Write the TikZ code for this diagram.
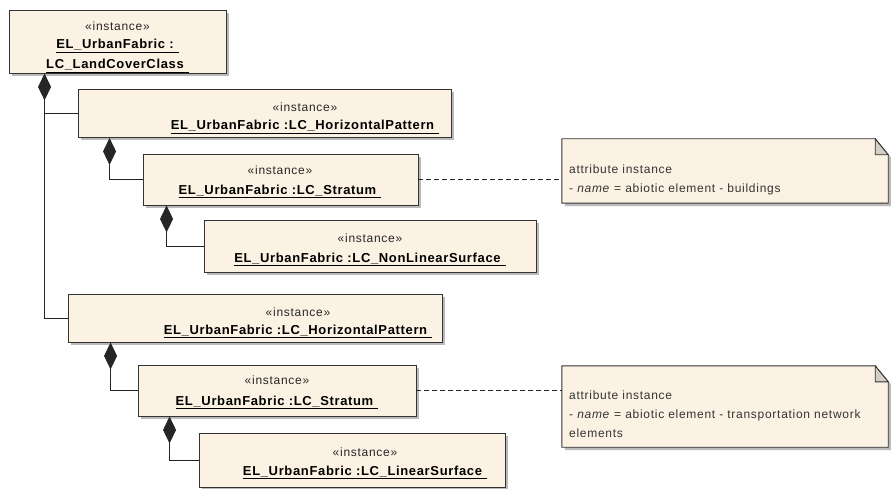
\documentclass[tikz,border=0pt]{standalone}
\usepackage{fontspec}
\setmainfont{Liberation Sans}
\usetikzlibrary{arrows.meta,shadows}

\definecolor{objfill}{RGB}{252,242,228}
\definecolor{foldfill}{RGB}{212,206,196}

\begin{document}
\begin{tikzpicture}[x=1pt, y=-1pt,
  obj/.style={draw=black!80, line width=0.9pt, fill=objfill, inner sep=0pt,
    drop shadow={shadow xshift=3pt, shadow yshift=-3pt, fill=black!45, opacity=0.6}},
  stereo/.style={anchor=base, inner sep=0pt, text=black!85, font=\fontsize{12}{14}\selectfont\addfontfeatures{LetterSpace=6}},
  objname/.style={anchor=base, inner sep=0pt, font=\fontsize{13}{15}\selectfont\bfseries\addfontfeatures{LetterSpace=5}},
  notetext/.style={anchor=north west, inner sep=0pt, align=left, text=black!80,
    font=\fontsize{12}{19}\selectfont\addfontfeatures{LetterSpace=6}},
  comp/.style={draw=black!85, line width=0.9pt, -{Diamond[length=27pt, width=13pt]}},
  link/.style={draw=black!85, line width=0.9pt},
  trace/.style={draw=black!85, line width=0.8pt, dash pattern=on 5pt off 3pt}]
  \def\uname#1{\vtop{\hbox{#1\hspace{5pt}}\kern1.6pt\hrule height 0.8pt}}
  \useasboundingbox (0,0) rectangle (891,489);

  % object boxes
  \node[obj, minimum width=217pt, minimum height=63pt] (lcc) at (117.5,41.5) {};
  \node[obj, minimum width=373pt, minimum height=48pt] (hp1) at (264.5,113.5) {};
  \node[obj, minimum width=275pt, minimum height=51pt] (st1) at (280.5,179.5) {};
  \node[obj, minimum width=332pt, minimum height=52pt] (nl) at (370,246) {};
  \node[obj, minimum width=374pt, minimum height=48pt] (hp2) at (255,318) {};
  \node[obj, minimum width=278pt, minimum height=51pt] (st2) at (277,390.5) {};
  \node[obj, minimum width=306pt, minimum height=54pt] (ls) at (352,460) {};

  % texts
  \node[stereo] (lccs) at (117.5,31) {«instance»};
  \node[objname] (lccn) at (117.5,49) {\uname{EL\_UrbanFabric :}};
  \node[objname] (lccc) at (117.5,68.5) {\uname{LC\_LandCoverClass}};
  \node[stereo] (hp1s) at (305,111.5) {«instance»};
  \node[objname] (hp1n) at (305,130) {\uname{EL\_UrbanFabric :LC\_HorizontalPattern}};
  \node[stereo] (st1s) at (280,175) {«instance»};
  \node[objname] (st1n) at (280,194) {\uname{EL\_UrbanFabric :LC\_Stratum}};
  \node[stereo] (nls) at (370,242) {«instance»};
  \node[objname] (nln) at (370,262) {\uname{EL\_UrbanFabric :LC\_NonLinearSurface}};
  \node[stereo] (hp2s) at (298,316) {«instance»};
  \node[objname] (hp2n) at (298,334) {\uname{EL\_UrbanFabric :LC\_HorizontalPattern}};
  \node[stereo] (st2s) at (277,384.5) {«instance»};
  \node[objname] (st2n) at (277,405) {\uname{EL\_UrbanFabric :LC\_Stratum}};
  \node[stereo] (lss) at (365,456) {«instance»};
  \node[objname] (lsn) at (365,475) {\uname{EL\_UrbanFabric :LC\_LinearSurface}};

  % notes
  \node[minimum width=326pt, minimum height=64pt, inner sep=0pt] (n1) at (725,171) {};
  \node[minimum width=326pt, minimum height=81pt, inner sep=0pt] (n2) at (725,406.5) {};
  \foreach \n in {n1,n2} {
    \draw[obj] (\n.south west) -- (\n.north west) -- ([xshift=-13pt]\n.north east)
      -- ([yshift=-16pt]\n.north east) -- (\n.south east) -- cycle;
    \draw[draw=black!80, line width=0.9pt, fill=foldfill] ([xshift=-13pt]\n.north east)
      -- ([xshift=-13pt, yshift=-16pt]\n.north east) -- ([yshift=-16pt]\n.north east) -- cycle;
  }
  \node[notetext] (n1t) at (569,165) {attribute instance\\- \textit{name} = abiotic element - buildings};
  \node[notetext] (n2t) at (569,391) {attribute instance\\- \textit{name} = abiotic element - transportation network\\elements};

  % composition links
  \coordinate (lccfoot) at ([xshift=36pt]lcc.south west);
  \coordinate (hp1foot) at ([xshift=32pt]hp1.south west);
  \coordinate (st1foot) at ([xshift=24pt]st1.south west);
  \coordinate (hp2foot) at ([xshift=43pt]hp2.south west);
  \coordinate (st2foot) at ([xshift=32pt]st2.south west);
  \draw[link] (hp2.west) -| (lccfoot);
  \draw[comp] (hp1.west) -| (lccfoot);
  \draw[comp] (st1.west) -| (hp1foot);
  \draw[comp] (nl.west) -| (st1foot);
  \draw[comp] (st2.west) -| (hp2foot);
  \draw[comp] (ls.west) -| (st2foot);

  % note links
  \draw[trace] (st1.east) -- (st1.east -| n1.west);
  \draw[trace] (st2.east) -- (st2.east -| n2.west);
\end{tikzpicture}
\end{document}
